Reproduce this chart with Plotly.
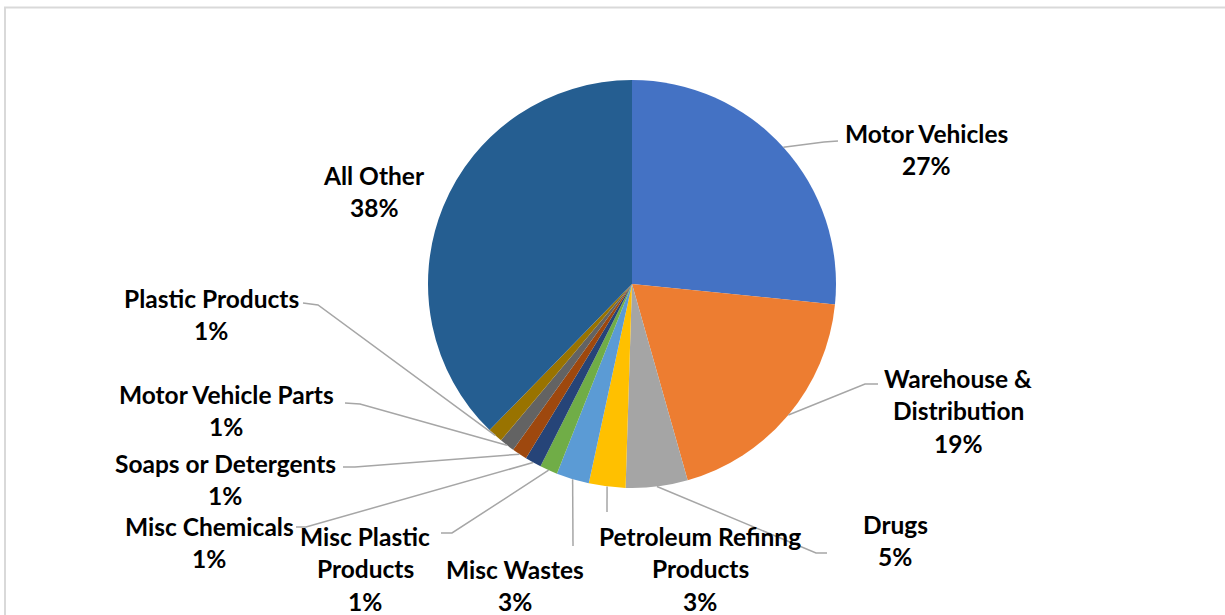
import plotly.graph_objects as go
import math

# ---- data ----
categories = ["Motor Vehicles", "Warehouse & Distribution", "Drugs",
              "Petroleum Refinng Products", "Misc Wastes", "Misc Plastic Products",
              "Misc Chemicals", "Soaps or Detergents", "Motor Vehicle Parts",
              "Plastic Products", "All Other"]
values = [26.6, 19.0, 4.9, 2.9, 2.6, 1.4, 1.3, 1.2, 1.2, 1.2, 37.7]
colors = ["#4472C4", "#ED7D31", "#A5A5A5", "#FFC000", "#5B9BD5", "#70AD47",
          "#264478", "#9E480E", "#636363", "#997300", "#255E91"]
# label text lines (category name split as in the chart)
label_lines = [
    ["Motor Vehicles"],
    ["Warehouse &", "Distribution"],
    ["Drugs"],
    ["Petroleum Refinng", "Products"],
    ["Misc Wastes"],
    ["Misc Plastic", "Products"],
    ["Misc Chemicals"],
    ["Soaps or Detergents"],
    ["Motor Vehicle Parts"],
    ["Plastic Products"],
    ["All Other"],
]

# ---- layout constants (pixels) ----
W, H = 1225, 615
CX, CY, R = 632, 284, 204
# label block centre (x, y of first line) and leader line bend/end points
label_pos = [(926, 133), (958, 378), (895, 524), (700, 536), (515, 569),
             (365, 536), (209, 526), (225, 463), (226, 394), (211, 298), (374, 175)]
leader = [
    [(824, 142), (838, 141)],
    [(865, 384), (878, 384)],
    [(816, 553), (827, 553)],
    [(607, 512)],
    [(573, 546)],
    [(452, 533), (441, 533)],
    [(306, 527), (296, 527)],
    [(355, 467), (343, 467)],
    [(360, 404), (345, 403)],
    [(318, 305), (303, 303)],
    None,
]
LINE_H = 32.5

def px(x):
    return x / W

def py(y):
    return 1 - y / H

fig = go.Figure(go.Pie(
    labels=categories, values=values, sort=False, direction="clockwise",
    rotation=0, marker=dict(colors=colors, line=dict(width=0)),
    textinfo="none", hoverinfo="label+percent",
    domain=dict(x=[(CX - R) / W, (CX + R) / W], y=[py(CY + R), py(CY - R)]),
    showlegend=False,
))

total = sum(values)
shapes = []
annotations = []
cum = 0.0
for i, v in enumerate(values):
    mid = (cum + v / 2) / total * 2 * math.pi
    cum += v
    ex = CX + R * math.sin(mid)
    ey = CY - R * math.cos(mid)
    if leader[i]:
        pts = [(ex, ey)] + leader[i]
        path = "M " + " L ".join(f"{px(x):.5f},{py(y):.5f}" for x, y in pts)
        shapes.append(dict(type="path", path=path, xref="paper", yref="paper",
                           line=dict(color="#A6A6A6", width=1.5)))
    pct = f"{int(v / total * 100 + 0.5)}%"
    lines = label_lines[i] + [pct]
    lx, ly = label_pos[i]
    for k, t in enumerate(lines):
        annotations.append(dict(text=f"<b>{t}</b>", x=px(lx), y=py(ly + k * LINE_H),
                                xref="paper", yref="paper", showarrow=False,
                                xanchor="center", yanchor="middle",
                                font=dict(family="Lato", size=24.5, color="#000000")))

# chart border
shapes.append(dict(type="rect", xref="paper", yref="paper",
                   x0=px(5), x1=px(1240), y0=py(640), y1=py(7.5),
                   line=dict(color="#D9D9D9", width=2), fillcolor="rgba(0,0,0,0)"))

fig.update_layout(width=W, height=H, margin=dict(l=0, r=0, t=0, b=0),
                  paper_bgcolor="white", plot_bgcolor="white",
                  shapes=shapes, annotations=annotations)
fig.write_html("out.html", config={"displayModeBar": False},
               post_script="document.body.style.margin='0';document.body.style.overflow='hidden';")
